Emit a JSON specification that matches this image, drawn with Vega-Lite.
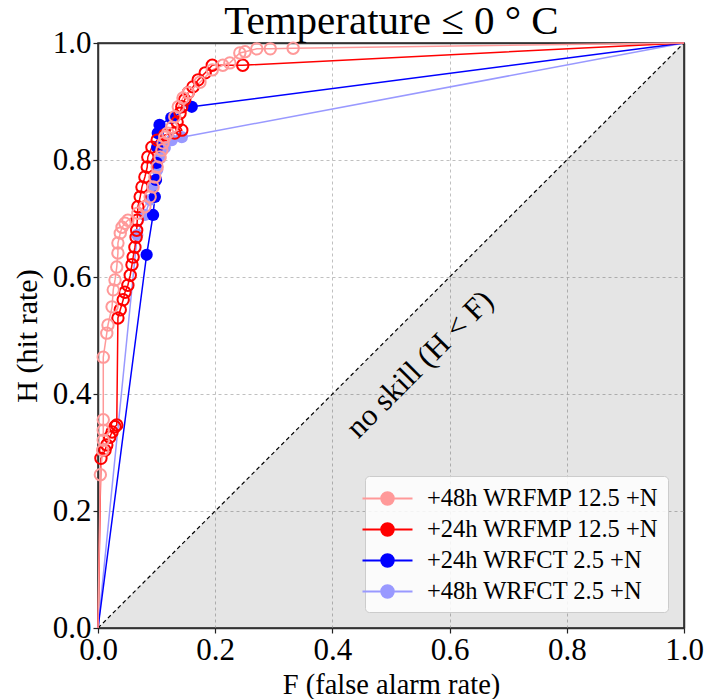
{
  "$schema": "https://vega.github.io/schema/vega-lite/v6.json",
  "width": 586,
  "height": 585,
  "autosize": {"type": "none"},
  "padding": {"left": 98, "top": 43, "right": 24, "bottom": 71},
  "background": "white",
  "config": {
    "view": {"stroke": "#222222", "strokeWidth": 1.5},
    "axis": {
      "labelFont": "Liberation Serif", "titleFont": "Liberation Serif",
      "labelFontSize": 31, "titleFontSize": 30, "titleFontWeight": "normal",
      "labelColor": "black", "titleColor": "black", "labelFlush": false,
      "gridColor": {"condition": {"test": "datum.value == 0 || datum.value == 1", "value": "#333333"}, "value": "#b0b0b0"},
      "gridDash": {"condition": {"test": "datum.value == 0 || datum.value == 1", "value": []}, "value": [3, 3]},
      "gridWidth": {"condition": {"test": "datum.value == 0 || datum.value == 1", "value": 1.5}, "value": 0.8},
      "tickColor": "#222222", "tickSize": 5, "tickWidth": 1.2, "domain": false, "labelPadding": 2
    }
  },
  "datasets": {
    "diag": [{"F": 0, "H": 0}, {"F": 1, "H": 1}],
    "note": [{"F": 0.55, "H": 0.45, "label": "no skill (H < F)"}],
    "roc": [
      {"s": "+48h WRFCT 2.5 +N", "i": 0, "F": 0, "H": 0},
      {"s": "+48h WRFCT 2.5 +N", "i": 1, "F": 0.067, "H": 0.672},
      {"s": "+48h WRFCT 2.5 +N", "i": 2, "F": 0.08, "H": 0.706},
      {"s": "+48h WRFCT 2.5 +N", "i": 3, "F": 0.089, "H": 0.732},
      {"s": "+48h WRFCT 2.5 +N", "i": 4, "F": 0.094, "H": 0.757},
      {"s": "+48h WRFCT 2.5 +N", "i": 5, "F": 0.101, "H": 0.783},
      {"s": "+48h WRFCT 2.5 +N", "i": 6, "F": 0.106, "H": 0.803},
      {"s": "+48h WRFCT 2.5 +N", "i": 7, "F": 0.114, "H": 0.821},
      {"s": "+48h WRFCT 2.5 +N", "i": 8, "F": 0.126, "H": 0.834},
      {"s": "+48h WRFCT 2.5 +N", "i": 9, "F": 0.143, "H": 0.839},
      {"s": "+48h WRFCT 2.5 +N", "i": 10, "F": 1, "H": 1},
      {"s": "+24h WRFCT 2.5 +N", "i": 0, "F": 0, "H": 0},
      {"s": "+24h WRFCT 2.5 +N", "i": 1, "F": 0.083, "H": 0.638},
      {"s": "+24h WRFCT 2.5 +N", "i": 2, "F": 0.094, "H": 0.706},
      {"s": "+24h WRFCT 2.5 +N", "i": 3, "F": 0.097, "H": 0.737},
      {"s": "+24h WRFCT 2.5 +N", "i": 4, "F": 0.099, "H": 0.766},
      {"s": "+24h WRFCT 2.5 +N", "i": 5, "F": 0.1, "H": 0.795},
      {"s": "+24h WRFCT 2.5 +N", "i": 6, "F": 0.101, "H": 0.822},
      {"s": "+24h WRFCT 2.5 +N", "i": 7, "F": 0.102, "H": 0.846},
      {"s": "+24h WRFCT 2.5 +N", "i": 8, "F": 0.105, "H": 0.86},
      {"s": "+24h WRFCT 2.5 +N", "i": 9, "F": 0.125, "H": 0.872},
      {"s": "+24h WRFCT 2.5 +N", "i": 10, "F": 0.16, "H": 0.891},
      {"s": "+24h WRFCT 2.5 +N", "i": 11, "F": 1, "H": 1},
      {"s": "+24h WRFMP 12.5 +N", "i": 0, "F": 0, "H": 0},
      {"s": "+24h WRFMP 12.5 +N", "i": 1, "F": 0.005, "H": 0.29},
      {"s": "+24h WRFMP 12.5 +N", "i": 2, "F": 0.012, "H": 0.304},
      {"s": "+24h WRFMP 12.5 +N", "i": 3, "F": 0.015, "H": 0.313},
      {"s": "+24h WRFMP 12.5 +N", "i": 4, "F": 0.02, "H": 0.326},
      {"s": "+24h WRFMP 12.5 +N", "i": 5, "F": 0.024, "H": 0.335},
      {"s": "+24h WRFMP 12.5 +N", "i": 6, "F": 0.029, "H": 0.344},
      {"s": "+24h WRFMP 12.5 +N", "i": 7, "F": 0.032, "H": 0.347},
      {"s": "+24h WRFMP 12.5 +N", "i": 8, "F": 0.034, "H": 0.53},
      {"s": "+24h WRFMP 12.5 +N", "i": 9, "F": 0.038, "H": 0.544},
      {"s": "+24h WRFMP 12.5 +N", "i": 10, "F": 0.043, "H": 0.561},
      {"s": "+24h WRFMP 12.5 +N", "i": 11, "F": 0.046, "H": 0.574},
      {"s": "+24h WRFMP 12.5 +N", "i": 12, "F": 0.051, "H": 0.586},
      {"s": "+24h WRFMP 12.5 +N", "i": 13, "F": 0.055, "H": 0.603},
      {"s": "+24h WRFMP 12.5 +N", "i": 14, "F": 0.058, "H": 0.621},
      {"s": "+24h WRFMP 12.5 +N", "i": 15, "F": 0.06, "H": 0.634},
      {"s": "+24h WRFMP 12.5 +N", "i": 16, "F": 0.063, "H": 0.651},
      {"s": "+24h WRFMP 12.5 +N", "i": 17, "F": 0.065, "H": 0.668},
      {"s": "+24h WRFMP 12.5 +N", "i": 18, "F": 0.066, "H": 0.68},
      {"s": "+24h WRFMP 12.5 +N", "i": 19, "F": 0.067, "H": 0.697},
      {"s": "+24h WRFMP 12.5 +N", "i": 20, "F": 0.068, "H": 0.72},
      {"s": "+24h WRFMP 12.5 +N", "i": 21, "F": 0.072, "H": 0.737},
      {"s": "+24h WRFMP 12.5 +N", "i": 22, "F": 0.075, "H": 0.754},
      {"s": "+24h WRFMP 12.5 +N", "i": 23, "F": 0.08, "H": 0.771},
      {"s": "+24h WRFMP 12.5 +N", "i": 24, "F": 0.084, "H": 0.788},
      {"s": "+24h WRFMP 12.5 +N", "i": 25, "F": 0.085, "H": 0.805},
      {"s": "+24h WRFMP 12.5 +N", "i": 26, "F": 0.092, "H": 0.822},
      {"s": "+24h WRFMP 12.5 +N", "i": 27, "F": 0.101, "H": 0.834},
      {"s": "+24h WRFMP 12.5 +N", "i": 28, "F": 0.114, "H": 0.843},
      {"s": "+24h WRFMP 12.5 +N", "i": 29, "F": 0.131, "H": 0.846},
      {"s": "+24h WRFMP 12.5 +N", "i": 30, "F": 0.143, "H": 0.851},
      {"s": "+24h WRFMP 12.5 +N", "i": 31, "F": 0.135, "H": 0.865},
      {"s": "+24h WRFMP 12.5 +N", "i": 32, "F": 0.14, "H": 0.88},
      {"s": "+24h WRFMP 12.5 +N", "i": 33, "F": 0.143, "H": 0.891},
      {"s": "+24h WRFMP 12.5 +N", "i": 34, "F": 0.148, "H": 0.903},
      {"s": "+24h WRFMP 12.5 +N", "i": 35, "F": 0.154, "H": 0.915},
      {"s": "+24h WRFMP 12.5 +N", "i": 36, "F": 0.162, "H": 0.925},
      {"s": "+24h WRFMP 12.5 +N", "i": 37, "F": 0.171, "H": 0.937},
      {"s": "+24h WRFMP 12.5 +N", "i": 38, "F": 0.183, "H": 0.949},
      {"s": "+24h WRFMP 12.5 +N", "i": 39, "F": 0.195, "H": 0.962},
      {"s": "+24h WRFMP 12.5 +N", "i": 40, "F": 0.247, "H": 0.962},
      {"s": "+24h WRFMP 12.5 +N", "i": 41, "F": 1, "H": 1},
      {"s": "+48h WRFMP 12.5 +N", "i": 0, "F": 0, "H": 0},
      {"s": "+48h WRFMP 12.5 +N", "i": 1, "F": 0.004, "H": 0.262},
      {"s": "+48h WRFMP 12.5 +N", "i": 2, "F": 0.008, "H": 0.304},
      {"s": "+48h WRFMP 12.5 +N", "i": 3, "F": 0.009, "H": 0.321},
      {"s": "+48h WRFMP 12.5 +N", "i": 4, "F": 0.009, "H": 0.338},
      {"s": "+48h WRFMP 12.5 +N", "i": 5, "F": 0.009, "H": 0.356},
      {"s": "+48h WRFMP 12.5 +N", "i": 6, "F": 0.009, "H": 0.463},
      {"s": "+48h WRFMP 12.5 +N", "i": 7, "F": 0.015, "H": 0.504},
      {"s": "+48h WRFMP 12.5 +N", "i": 8, "F": 0.017, "H": 0.518},
      {"s": "+48h WRFMP 12.5 +N", "i": 9, "F": 0.024, "H": 0.549},
      {"s": "+48h WRFMP 12.5 +N", "i": 10, "F": 0.026, "H": 0.578},
      {"s": "+48h WRFMP 12.5 +N", "i": 11, "F": 0.029, "H": 0.595},
      {"s": "+48h WRFMP 12.5 +N", "i": 12, "F": 0.032, "H": 0.617},
      {"s": "+48h WRFMP 12.5 +N", "i": 13, "F": 0.034, "H": 0.641},
      {"s": "+48h WRFMP 12.5 +N", "i": 14, "F": 0.034, "H": 0.658},
      {"s": "+48h WRFMP 12.5 +N", "i": 15, "F": 0.038, "H": 0.675},
      {"s": "+48h WRFMP 12.5 +N", "i": 16, "F": 0.041, "H": 0.685},
      {"s": "+48h WRFMP 12.5 +N", "i": 17, "F": 0.046, "H": 0.692},
      {"s": "+48h WRFMP 12.5 +N", "i": 18, "F": 0.051, "H": 0.697},
      {"s": "+48h WRFMP 12.5 +N", "i": 19, "F": 0.068, "H": 0.709},
      {"s": "+48h WRFMP 12.5 +N", "i": 20, "F": 0.08, "H": 0.72},
      {"s": "+48h WRFMP 12.5 +N", "i": 21, "F": 0.089, "H": 0.737},
      {"s": "+48h WRFMP 12.5 +N", "i": 22, "F": 0.094, "H": 0.754},
      {"s": "+48h WRFMP 12.5 +N", "i": 23, "F": 0.097, "H": 0.771},
      {"s": "+48h WRFMP 12.5 +N", "i": 24, "F": 0.101, "H": 0.788},
      {"s": "+48h WRFMP 12.5 +N", "i": 25, "F": 0.106, "H": 0.805},
      {"s": "+48h WRFMP 12.5 +N", "i": 26, "F": 0.109, "H": 0.817},
      {"s": "+48h WRFMP 12.5 +N", "i": 27, "F": 0.111, "H": 0.829},
      {"s": "+48h WRFMP 12.5 +N", "i": 28, "F": 0.114, "H": 0.839},
      {"s": "+48h WRFMP 12.5 +N", "i": 29, "F": 0.119, "H": 0.846},
      {"s": "+48h WRFMP 12.5 +N", "i": 30, "F": 0.126, "H": 0.856},
      {"s": "+48h WRFMP 12.5 +N", "i": 31, "F": 0.131, "H": 0.874},
      {"s": "+48h WRFMP 12.5 +N", "i": 32, "F": 0.137, "H": 0.891},
      {"s": "+48h WRFMP 12.5 +N", "i": 33, "F": 0.145, "H": 0.906},
      {"s": "+48h WRFMP 12.5 +N", "i": 34, "F": 0.154, "H": 0.915},
      {"s": "+48h WRFMP 12.5 +N", "i": 35, "F": 0.174, "H": 0.933},
      {"s": "+48h WRFMP 12.5 +N", "i": 36, "F": 0.195, "H": 0.954},
      {"s": "+48h WRFMP 12.5 +N", "i": 37, "F": 0.213, "H": 0.962},
      {"s": "+48h WRFMP 12.5 +N", "i": 38, "F": 0.225, "H": 0.966},
      {"s": "+48h WRFMP 12.5 +N", "i": 39, "F": 0.242, "H": 0.983},
      {"s": "+48h WRFMP 12.5 +N", "i": 40, "F": 0.251, "H": 0.985},
      {"s": "+48h WRFMP 12.5 +N", "i": 41, "F": 0.271, "H": 0.99},
      {"s": "+48h WRFMP 12.5 +N", "i": 42, "F": 0.294, "H": 0.99},
      {"s": "+48h WRFMP 12.5 +N", "i": 43, "F": 0.333, "H": 0.991},
      {"s": "+48h WRFMP 12.5 +N", "i": 44, "F": 1, "H": 1}
    ]
  },
  "resolve": {"axis": {"x": "independent"}},
  "layer": [
    {
      "layer": [
        {
          "data": {"name": "diag"},
          "mark": {"type": "area", "color": "black", "opacity": 0.1},
          "encoding": {
            "x": {"field": "F", "type": "quantitative", "scale": {"domain": [0, 1], "nice": false, "zero": false},
                  "axis": {"values": [0, 0.2, 0.4, 0.6, 0.8, 1], "format": ".1f", "title": "F (false alarm rate)", "titleFontSize": 28.5, "titlePadding": 5}},
            "y": {"field": "H", "type": "quantitative", "scale": {"domain": [0, 1], "nice": false, "zero": false},
                  "axis": {"values": [0, 0.2, 0.4, 0.6, 0.8, 1], "format": ".1f", "title": "H (hit rate)", "titlePadding": 10}},
            "y2": {"datum": 0}
          }
        },
        {
          "data": {"name": "diag"},
          "mark": {"type": "line", "color": "black", "strokeDash": [4, 3], "strokeWidth": 1.2},
          "encoding": {
            "x": {"field": "F", "type": "quantitative"},
            "y": {"field": "H", "type": "quantitative"}
          }
        },
        {
          "data": {"name": "roc"},
          "mark": {"type": "line", "strokeWidth": 1.5},
          "encoding": {
            "x": {"field": "F", "type": "quantitative"},
            "y": {"field": "H", "type": "quantitative"},
            "order": {"field": "i", "type": "quantitative"},
            "color": {
              "field": "s", "type": "nominal",
              "scale": {"domain": ["+48h WRFMP 12.5 +N", "+24h WRFMP 12.5 +N", "+24h WRFCT 2.5 +N", "+48h WRFCT 2.5 +N"],
                        "range": ["#ff9999", "#ff0000", "#0000ff", "#9999ff"]},
              "legend": {
                "title": null, "orient": "bottom-right", "offset": 16, "padding": 9,
                "fillColor": "rgba(255,255,255,0.85)", "strokeColor": "#cccccc", "cornerRadius": 4,
                "labelFont": "Liberation Serif", "labelFontSize": 24.5, "labelColor": "black", "labelLimit": 400,
                "symbolType": "M-2,0H-0.5M0.5,0H2M0.5,0A0.5,0.5,0,1,1,-0.5,0A0.5,0.5,0,1,1,0.5,0Z",
                "symbolSize": 625, "symbolStrokeWidth": 2, "rowPadding": 6, "labelOffset": 26,
                "encode": {
                  "symbols": {
                    "update": {
                      "fill": [{"test": "indexof(datum.value, 'WRFCT') >= 0", "scale": "color", "field": "value"}, {"value": "white"}],
                      "stroke": {"scale": "color", "field": "value"},
                      "strokeWidth": {"value": 2},
                      "opacity": {"value": 1}
                    }
                  }
                }
              }
            }
          }
        },
        {
          "data": {"name": "roc"},
          "transform": [{"filter": "indexof(datum.s, 'WRFCT') >= 0 && datum.F > 0 && datum.F < 1"}],
          "mark": {"type": "circle", "size": 150, "opacity": 1},
          "encoding": {
            "x": {"field": "F", "type": "quantitative"},
            "y": {"field": "H", "type": "quantitative"},
            "color": {"field": "s", "type": "nominal"}
          }
        },
        {
          "data": {"name": "roc"},
          "transform": [{"filter": "indexof(datum.s, 'WRFMP') >= 0 && datum.F > 0 && datum.F < 1"}],
          "mark": {"type": "point", "filled": false, "size": 130, "strokeWidth": 2, "opacity": 1},
          "encoding": {
            "x": {"field": "F", "type": "quantitative"},
            "y": {"field": "H", "type": "quantitative"},
            "color": {"field": "s", "type": "nominal"}
          }
        }
      ]
    },
    {
      "data": {"name": "note"},
      "mark": {"type": "text", "angle": 315, "font": "Liberation Serif", "fontSize": 31, "color": "black", "align": "center", "baseline": "middle"},
      "encoding": {
        "x": {"field": "F", "type": "quantitative",
              "axis": {"orient": "top", "title": "Temperature ≤ 0 ° C", "titleFontSize": 41, "titleBaseline": "alphabetic", "titlePadding": 10,
                       "labels": false, "ticks": false, "grid": false, "domain": false}},
        "y": {"field": "H", "type": "quantitative",
              "axis": {"values": [0, 0.2, 0.4, 0.6, 0.8, 1], "format": ".1f", "title": "H (hit rate)", "titlePadding": 10}},
        "text": {"field": "label"}
      }
    }
  ]
}
